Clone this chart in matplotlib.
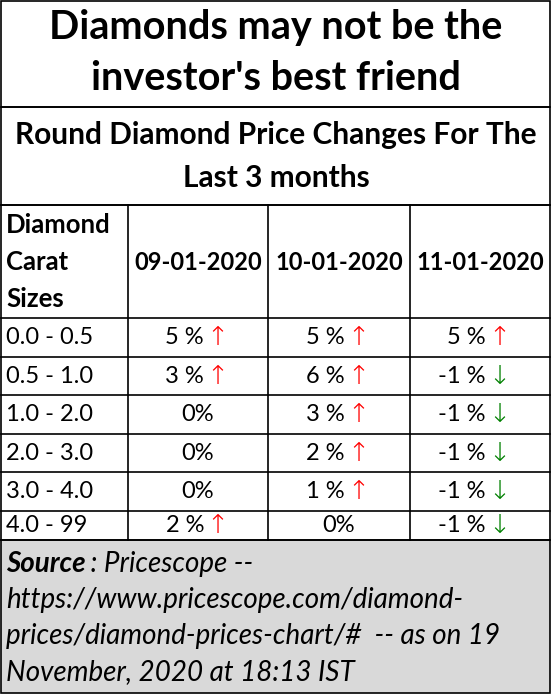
import matplotlib.pyplot as plt
from matplotlib.patches import Rectangle

plt.rcParams["font.family"] = ["Lato", "DejaVu Sans"]

TITLE = ["Diamonds may not be the", "investor's best friend"]
SUBTITLE = ["Round Diamond Price Changes For The", "Last 3 months"]
HEADER_FIRST = ["Diamond", "Carat", "Sizes"]
DATES = ["09-01-2020", "10-01-2020", "11-01-2020"]
SIZES = ["0.0 - 0.5", "0.5 - 1.0", "1.0 - 2.0", "2.0 - 3.0", "3.0 - 4.0", "4.0 - 99"]
CHANGES = [
    [5, 5, 5],
    [3, 6, -1],
    [0, 3, -1],
    [0, 2, -1],
    [0, 1, -1],
    [2, 0, -1],
]
SOURCE_LINES = [
    "https://www.pricescope.com/diamond-",
    "prices/diamond-prices-chart/#  -- as on 19",
    "November, 2020 at 18:13 IST",
]

fig = plt.figure(figsize=(5.52, 6.94), dpi=100)
ax = fig.add_axes([0, 0, 1, 1])
ax.set_xlim(0, 552)
ax.set_ylim(694, 0)
ax.axis("off")

col_x = [1, 128, 268, 410, 550]
row_y = [205, 318, 357, 395, 434, 472, 511, 540]
lw = 1.2

# title and subtitle boxes
ax.add_patch(Rectangle((1, 1), 549, 106, fill=False, lw=lw, ec="black"))
ax.add_patch(Rectangle((1, 107), 549, 98, fill=False, lw=lw, ec="black"))
for y, s in zip([27, 78], TITLE):
    ax.text(276, y, s, ha="center", va="center", fontsize=28.5, fontweight="bold")
for y, s in zip([135, 178], SUBTITLE):
    ax.text(276, y, s, ha="center", va="center", fontsize=21.5, fontweight="bold")

# grid
for x in col_x:
    ax.plot([x, x], [row_y[0], row_y[-1]], color="black", lw=lw)
for y in row_y:
    ax.plot([col_x[0], col_x[-1]], [y, y], color="black", lw=lw)

for y, s in zip([225, 262, 299], HEADER_FIRST):
    ax.text(6, y, s, ha="left", va="center", fontsize=18.5, fontweight="bold")
for i, d in enumerate(DATES):
    cx = (col_x[i + 1] + col_x[i + 2]) / 2
    ax.text(cx, 262, d, ha="center", va="center", fontsize=17, fontweight="bold")

for r, (size, vals) in enumerate(zip(SIZES, CHANGES)):
    cy = (row_y[r + 1] + row_y[r + 2]) / 2
    ax.text(6, cy, size, ha="left", va="center", fontsize=17)
    for i, v in enumerate(vals):
        cx = (col_x[i + 1] + col_x[i + 2]) / 2
        if v == 0:
            ax.text(cx, cy, "0%", ha="center", va="center", fontsize=17)
            continue
        ax.text(cx + 6, cy, f"{v} %", ha="right", va="center", fontsize=17)
        arrow, color = ("↑", "red") if v > 0 else ("↓", "green")
        ax.text(cx + 8, cy, arrow, ha="left", va="center", fontsize=19,
                color=color, family="DejaVu Sans", fontweight="light")

# source box
ax.add_patch(Rectangle((1, 540), 549, 153, fc="#d9d9d9", ec="black", lw=lw))
t = ax.text(6, 564, "Source", ha="left", va="center", fontsize=20,
            fontweight="bold", style="italic")
ax.text(84, 564, " : Pricescope --", ha="left", va="center", fontsize=20, style="italic")
for y, s in zip([600, 636, 672], SOURCE_LINES):
    ax.text(6, y, s, ha="left", va="center", fontsize=20, style="italic")

fig.savefig("out.png", dpi=100)
